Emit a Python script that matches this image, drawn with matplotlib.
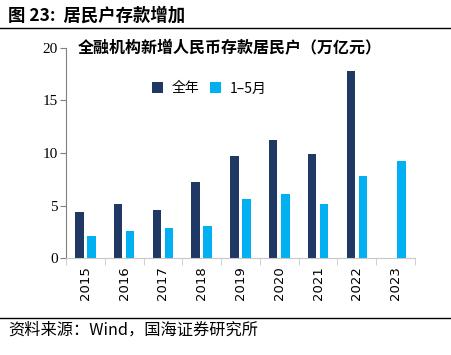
import matplotlib.pyplot as plt
import numpy as np
from matplotlib.lines import Line2D

plt.rcParams['font.family'] = ['Noto Sans CJK SC', 'DejaVu Sans']

years = ['2015', '2016', '2017', '2018', '2019', '2020', '2021', '2022', '2023']
full_year = [4.4, 5.1, 4.6, 7.2, 9.7, 11.2, 9.9, 17.8, np.nan]
jan_may = [2.1, 2.6, 2.9, 3.1, 5.6, 6.1, 5.1, 7.8, 9.2]

navy = '#203864'
cyan = '#00B0F0'

fig = plt.figure(figsize=(4.52, 3.55), dpi=100)
ax = fig.add_axes([0.146, 0.273, 0.772, 0.592])

x = np.arange(len(years))
w = 0.22
ax.bar(x - 0.155, full_year, w, color=navy, label='全年')
ax.bar(x + 0.155, jan_may, w, color=cyan, label='1–5月')

ax.set_xlim(-0.5, len(years) - 0.5)
ax.set_ylim(0, 20)
ax.set_yticks([0, 5, 10, 15, 20])
ax.set_yticklabels(['0', '5', '10', '15', '20'], fontfamily='Liberation Serif', fontsize=11)
ax.set_xticks(x)
ax.set_xticklabels(years, rotation=90, fontfamily='DejaVu Sans', fontsize=9.5)
ax.set_xticks(np.arange(-0.5, len(years)), minor=True)
ax.tick_params(axis='x', which='major', length=0, pad=6)
ax.tick_params(axis='x', which='minor', length=5, color='#c8c8c8', direction='out')
ax.tick_params(axis='y', length=4, color='#808080', direction='out', pad=2)

for s in ['top', 'right']:
    ax.spines[s].set_visible(False)
ax.spines['left'].set_color('#808080')
ax.spines['bottom'].set_color('#c8c8c8')

ax.text(0.035, 1.0, '全融机构新增人民币存款居民户（万亿元）', transform=ax.transAxes,
        fontsize=11.5, fontweight='bold', va='center', ha='left')

ax.legend(loc='upper left', bbox_to_anchor=(0.21, 0.9), ncol=2, frameon=False,
          fontsize=10, handlelength=0.8, handleheight=0.8, handletextpad=0.6,
          columnspacing=0.8)

fig.text(0.018, 0.955, '图 23:  居民户存款增加', fontsize=12.5, fontweight='bold',
         va='center', ha='left')
fig.add_artist(Line2D([0, 1], [0.921, 0.921], color='black', lw=1.0))
fig.add_artist(Line2D([0, 1], [0.104, 0.104], color='black', lw=1.0))
fig.text(0.018, 0.07, '资料来源：Wind，国海证券研究所', fontsize=11.7,
         va='center', ha='left')

fig.savefig('out.png', dpi=100)
